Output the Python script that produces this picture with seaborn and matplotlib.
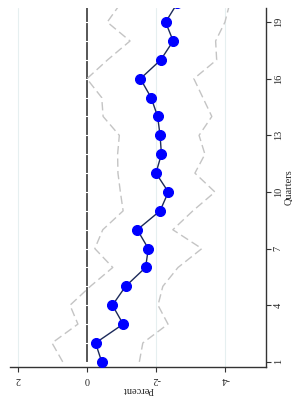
import numpy as np
import matplotlib
matplotlib.use("Agg")
import matplotlib.pyplot as plt
import seaborn as sns

quarters = list(range(1, 21))
# median response (percent)
median = [-0.43, -0.25, -1.05, -0.74, -1.12, -1.70, -1.78, -1.46, -2.12, -2.36,
          -2.00, -2.16, -2.12, -2.05, -1.86, -1.55, -2.14, -2.50, -2.28, -2.62]
# upper and lower bands
upper = [0.70, 1.01, 0.26, 0.49, -0.10, -0.75, -0.23, -0.46, -1.05, -0.97,
         -0.90, -0.89, -0.94, -0.47, -0.43, 0.00, -0.60, -1.25, -0.59, -0.98]
lower = [-1.52, -1.62, -2.35, -2.06, -2.20, -2.64, -3.33, -2.49, -3.07, -3.71,
         -3.13, -3.42, -3.25, -3.62, -3.36, -3.10, -3.76, -3.73, -4.00, -4.14]
pct_ticks = [2, 0, -2, -4]
q_ticks = [1, 4, 7, 10, 13, 16, 19]

sns.set_style("white")
plt.rcParams['font.family'] = ['Liberation Serif', 'DejaVu Serif']
plt.rcParams['axes.unicode_minus'] = False

fig = plt.figure(figsize=(2.92, 3.98), dpi=100)
ax = fig.add_axes([0.034, 0.078, 0.877, 0.902])

# the chart is turned a quarter turn: percent runs across, quarters run up
for t in pct_ticks:
    if t != 0:
        ax.axvline(t, color='#e6eff0', lw=0.8, zorder=0)
sns.lineplot(x=[0] * len(quarters), y=quarters, ax=ax, color='#3a3a3a', lw=1.2,
             marker='_', markersize=2.5, markeredgewidth=0.8,
             estimator=None, sort=False, zorder=1)

sns.lineplot(x=upper, y=quarters, ax=ax, color='#c4c4c4', lw=1.0,
             linestyle=(0, (6, 3)), estimator=None, sort=False, zorder=2)
sns.lineplot(x=lower, y=quarters, ax=ax, color='#c4c4c4', lw=1.0,
             linestyle=(0, (6, 3)), estimator=None, sort=False, zorder=2)
sns.lineplot(x=median, y=quarters, ax=ax, color='#1c2a5a', lw=1.0,
             marker='o', markersize=7.2, markerfacecolor='blue', markeredgecolor='blue',
             estimator=None, sort=False, zorder=3)

ax.set_xlim(2.23, -5.19)
ax.set_ylim(0.73, 19.75)

for s in ['left', 'top']:
    ax.spines[s].set_visible(False)
for s in ['bottom', 'right']:
    ax.spines[s].set_color('#333333')
    ax.spines[s].set_linewidth(1.0)

ax.yaxis.tick_right()
ax.yaxis.set_label_position('right')
ax.set_yticks(q_ticks)
ax.set_xticks(pct_ticks)
ax.tick_params(axis='both', direction='out', length=3.5, width=0.8, color='#333333',
               labelsize=7.5, pad=2, left=False, right=True, bottom=True)
plt.setp(ax.get_yticklabels(), rotation=90, va='center')
plt.setp(ax.get_xticklabels(), rotation=180, ha='center')
ax.set_ylabel('Quarters', rotation=90, fontsize=7.5, labelpad=1)
ax.set_xlabel('Percent', rotation=180, fontsize=7.5, labelpad=1)

fig.savefig('out.png', dpi=100)
